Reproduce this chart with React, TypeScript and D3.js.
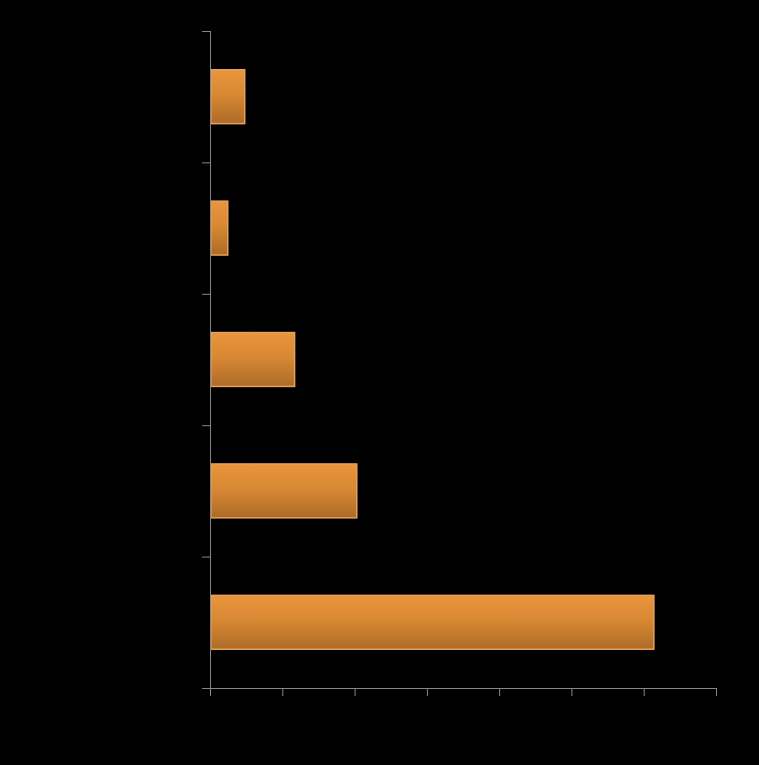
import React from 'react';
import * as d3 from 'd3';

// category order is top to bottom; labels are not drawn in the reference
const categories = ['A', 'B', 'C', 'D', 'E'];
const values = [4.7, 2.35, 11.6, 20.2, 61.3];
const xTicks = [0, 10, 20, 30, 40, 50, 60, 70];

const App: React.FC = () => {
  const width = 759;
  const height = 765;
  const margin = { top: 31, right: 43, bottom: 77, left: 210 };
  const innerW = width - margin.left - margin.right;
  const innerH = height - margin.top - margin.bottom;

  const x = d3.scaleLinear().domain([0, 70]).range([0, innerW]);
  const y = d3.scaleBand<string>()
    .domain(categories)
    .range([0, innerH])
    .paddingInner(0.59)
    .paddingOuter(0.295);

  const step = y.step();
  const boundaries = d3.range(categories.length + 1).map(i => i * step);
  const axisColor = '#868686';

  return (
    <div style={{ position: 'fixed', left: 0, top: 0, width, height, background: '#000' }}>
      <svg width={width} height={height} style={{ display: 'block' }}>
        <defs>
          <linearGradient id="barGrad" x1="0" y1="0" x2="0" y2="1">
            <stop offset="0%" stopColor="#e9953b" />
            <stop offset="45%" stopColor="#d88934" />
            <stop offset="100%" stopColor="#ad6b27" />
          </linearGradient>
        </defs>
        <rect width={width} height={height} fill="#000" />
        <g transform={`translate(${margin.left},${margin.top})`}>
          {categories.map((c, i) => (
            <rect
              key={c}
              x={x(0) + 0.75}
              y={y(c)!}
              width={x(values[i]) - x(0)}
              height={y.bandwidth()}
              fill="url(#barGrad)"
              stroke="#e6a25c"
              strokeWidth={1.5}
            />
          ))}
          {/* y axis */}
          <line x1={0.5} x2={0.5} y1={0} y2={innerH} stroke={axisColor} strokeWidth={1} />
          {boundaries.map((b, i) => (
            <line key={'yt' + i} x1={-8} x2={0.5} y1={b + 0.5} y2={b + 0.5} stroke={axisColor} strokeWidth={1} />
          ))}
          {/* x axis */}
          <line x1={0} x2={innerW} y1={innerH + 0.5} y2={innerH + 0.5} stroke={axisColor} strokeWidth={1} />
          {xTicks.map(t => (
            <line key={'xt' + t} x1={x(t) + 0.5} x2={x(t) + 0.5} y1={innerH} y2={innerH + 8} stroke={axisColor} strokeWidth={1} />
          ))}
        </g>
      </svg>
    </div>
  );
};

export default App;
